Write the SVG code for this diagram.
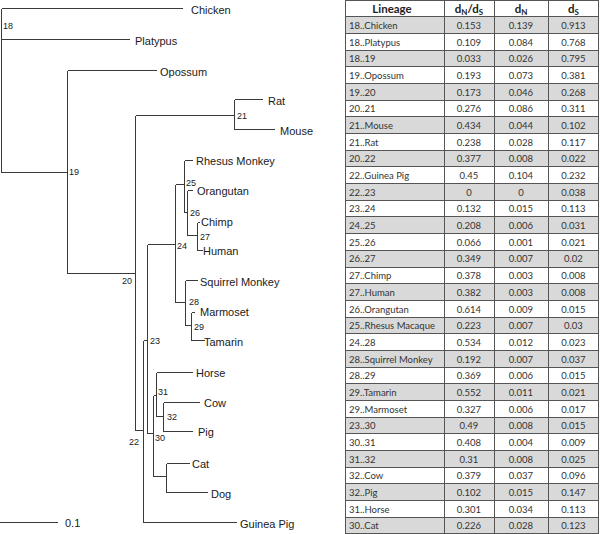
<svg xmlns="http://www.w3.org/2000/svg" width="600" height="534" viewBox="0 0 600 534">
<style>
.br{stroke:#3a3a3a;stroke-width:1;fill:none;shape-rendering:crispEdges}
.lf{font-family:"Liberation Sans",Arial,sans-serif;font-size:11px;fill:#1a1a1a}
.nd{font-family:"Liberation Sans",Arial,sans-serif;font-size:9px;fill:#1a1a1a}
.sh{fill:#d9d9d9}
.tl{stroke:#555;stroke-width:1;fill:none;shape-rendering:crispEdges}
.tx{font-family:Lato,"Open Sans",sans-serif;font-size:9.5px;fill:#333}
.tn{font-family:Lato,"Open Sans",sans-serif;font-size:9.5px;fill:#333;text-anchor:middle}
.hd{font-family:Lato,"Open Sans",sans-serif;font-size:11.5px;font-weight:bold;fill:#222;text-anchor:middle}
.sb{font-size:8px}
</style>
<rect width="600" height="534" fill="#fff"/>

<g id="connectors" class="br">
<path d="M1.5 8.5V172.5"/>
<path d="M1.5 8.5H183"/>
<path d="M1.5 39.5H130"/>
<path d="M1.5 172.5H67.5"/>
<path d="M67.5 70.5V273.5"/>
<path d="M67.5 70.5H157"/>
<path d="M67.5 273.5H135.5"/>
<path d="M135.5 115.5V430.5"/>
<path d="M135.5 115.5H234.5"/>
<path d="M234.5 99.5V129.5"/>
<path d="M234.5 99.5H263"/>
<path d="M234.5 129.5H275"/>
<path d="M135.5 430.5H143.5"/>
<path d="M143.5 340.5V522.5"/>
<path d="M143.5 522.5H237"/>
<path d="M143.5 340.5H147.5"/>
<path d="M147.5 244.5V433.5"/>
<path d="M147.5 244.5H175.5"/>
<path d="M175.5 184.5V302.5"/>
<path d="M175.5 184.5H184.5"/>
<path d="M184.5 160.5V212.5"/>
<path d="M184.5 160.5H193"/>
<path d="M184.5 212.5H187.5"/>
<path d="M187.5 190.5V235.5"/>
<path d="M187.5 190.5H193"/>
<path d="M187.5 235.5H197.5"/>
<path d="M197.5 222.5V250.5"/>
<path d="M197.5 222.5H200"/>
<path d="M197.5 250.5H203"/>
<path d="M175.5 302.5H185.5"/>
<path d="M185.5 280.5V325.5"/>
<path d="M185.5 280.5H198"/>
<path d="M185.5 325.5H191.5"/>
<path d="M191.5 312.5V340.5"/>
<path d="M191.5 312.5H195"/>
<path d="M191.5 340.5H205"/>
<path d="M147.5 433.5H153.5"/>
<path d="M153.5 395.5V476.5"/>
<path d="M153.5 395.5H156.5"/>
<path d="M156.5 372.5V416.5"/>
<path d="M156.5 372.5H193"/>
<path d="M156.5 416.5H163.5"/>
<path d="M163.5 402.5V431.5"/>
<path d="M163.5 402.5H200"/>
<path d="M163.5 431.5H193"/>
<path d="M153.5 476.5H166.5"/>
<path d="M166.5 463.5V492.5"/>
<path d="M166.5 463.5H190"/>
<path d="M166.5 492.5H208"/>
<path d="M0 522.5H58"/>
</g>

<g id="n18"><text class="nd" x="3" y="28.5">18</text></g>
<g id="n19"><text class="nd" x="69" y="175">19</text></g>
<g id="n20"><text class="nd" x="122" y="284">20</text></g>
<g id="n21"><text class="nd" x="237" y="118.5">21</text></g>
<g id="n22"><text class="nd" x="129" y="444.5">22</text></g>
<g id="n23"><text class="nd" x="150" y="343.5">23</text></g>
<g id="n24"><text class="nd" x="177" y="248.5">24</text></g>
<g id="n25"><text class="nd" x="186" y="185.5">25</text></g>
<g id="n26"><text class="nd" x="190" y="215.5">26</text></g>
<g id="n27"><text class="nd" x="200" y="239.5">27</text></g>
<g id="n28"><text class="nd" x="189" y="305">28</text></g>
<g id="n29"><text class="nd" x="194" y="329.5">29</text></g>
<g id="n30"><text class="nd" x="155" y="440.5">30</text></g>
<g id="n31"><text class="nd" x="158" y="395">31</text></g>
<g id="n32"><text class="nd" x="167" y="419.5">32</text></g>

<g id="chicken"><text class="lf" x="191" y="14">Chicken</text></g>
<g id="platypus"><text class="lf" x="135" y="45">Platypus</text></g>
<g id="opossum"><text class="lf" x="160" y="76">Opossum</text></g>
<g id="rat"><text class="lf" x="268" y="105">Rat</text></g>
<g id="mouse"><text class="lf" x="280" y="135">Mouse</text></g>
<g id="rhesus"><text class="lf" x="196" y="165">Rhesus Monkey</text></g>
<g id="orangutan"><text class="lf" x="197" y="195">Orangutan</text></g>
<g id="chimp"><text class="lf" x="201" y="226">Chimp</text></g>
<g id="human"><text class="lf" x="203" y="255">Human</text></g>
<g id="squirrel"><text class="lf" x="200" y="286">Squirrel Monkey</text></g>
<g id="marmoset"><text class="lf" x="200" y="316">Marmoset</text></g>
<g id="tamarin"><text class="lf" x="204" y="346">Tamarin</text></g>
<g id="horse"><text class="lf" x="196" y="377">Horse</text></g>
<g id="cow"><text class="lf" x="204" y="407">Cow</text></g>
<g id="pig"><text class="lf" x="198" y="436">Pig</text></g>
<g id="cat"><text class="lf" x="192" y="468">Cat</text></g>
<g id="dog"><text class="lf" x="211" y="498">Dog</text></g>
<g id="guineapig"><text class="lf" x="240" y="528">Guinea Pig</text></g>
<g id="scale"><text class="lf" x="65" y="527">0.1</text></g>

<g id="table">
<rect class="sh" x="345" y="16.69" width="254" height="16.69"/>
<rect class="sh" x="345" y="50.06" width="254" height="16.69"/>
<rect class="sh" x="345" y="83.44" width="254" height="16.69"/>
<rect class="sh" x="345" y="116.81" width="254" height="16.69"/>
<rect class="sh" x="345" y="150.19" width="254" height="16.69"/>
<rect class="sh" x="345" y="183.56" width="254" height="16.69"/>
<rect class="sh" x="345" y="216.94" width="254" height="16.69"/>
<rect class="sh" x="345" y="250.31" width="254" height="16.69"/>
<rect class="sh" x="345" y="283.69" width="254" height="16.69"/>
<rect class="sh" x="345" y="317.06" width="254" height="16.69"/>
<rect class="sh" x="345" y="350.44" width="254" height="16.69"/>
<rect class="sh" x="345" y="383.81" width="254" height="16.69"/>
<rect class="sh" x="345" y="417.19" width="254" height="16.69"/>
<rect class="sh" x="345" y="450.56" width="254" height="16.69"/>
<rect class="sh" x="345" y="483.94" width="254" height="16.69"/>
<rect class="sh" x="345" y="517.31" width="254" height="16.69"/>
<g class="tl">
<path d="M345.5 0V534M444.5 0V534M494.5 0V534M548.5 0V534M598.5 0V534"/>
<path d="M345 0.5H599M345 16.69H599M345 33.38H599M345 50.06H599M345 66.75H599M345 83.44H599M345 100.13H599M345 116.81H599M345 133.5H599M345 150.19H599M345 166.88H599M345 183.56H599M345 200.25H599M345 216.94H599M345 233.63H599M345 250.31H599M345 267H599M345 283.69H599M345 300.38H599M345 317.06H599M345 333.75H599M345 350.44H599M345 367.13H599M345 383.81H599M345 400.5H599M345 417.19H599M345 433.88H599M345 450.56H599M345 467.25H599M345 483.94H599M345 500.63H599M345 517.31H599M345 533.5H599"/>
</g>
<text class="hd" x="392" y="12.5">Lineage</text>
<text class="hd" x="469" y="12.5">d<tspan class="sb" dy="2">N</tspan><tspan dy="-2">/d</tspan><tspan class="sb" dy="2">S</tspan></text>
<text class="hd" x="521" y="12.5">d<tspan class="sb" dy="2">N</tspan></text>
<text class="hd" x="573.5" y="12.5">d<tspan class="sb" dy="2">S</tspan></text>

<g transform="translate(0,16.69)"><text class="tx" x="349" y="12.2">18..Chicken</text><text class="tn" x="469" y="12.2">0.153</text><text class="tn" x="521" y="12.2">0.139</text><text class="tn" x="573.5" y="12.2">0.913</text></g>
<g transform="translate(0,33.38)"><text class="tx" x="349" y="12.2">18..Platypus</text><text class="tn" x="469" y="12.2">0.109</text><text class="tn" x="521" y="12.2">0.084</text><text class="tn" x="573.5" y="12.2">0.768</text></g>
<g transform="translate(0,50.06)"><text class="tx" x="349" y="12.2">18..19</text><text class="tn" x="469" y="12.2">0.033</text><text class="tn" x="521" y="12.2">0.026</text><text class="tn" x="573.5" y="12.2">0.795</text></g>
<g transform="translate(0,66.75)"><text class="tx" x="349" y="12.2">19..Opossum</text><text class="tn" x="469" y="12.2">0.193</text><text class="tn" x="521" y="12.2">0.073</text><text class="tn" x="573.5" y="12.2">0.381</text></g>
<g transform="translate(0,83.44)"><text class="tx" x="349" y="12.2">19..20</text><text class="tn" x="469" y="12.2">0.173</text><text class="tn" x="521" y="12.2">0.046</text><text class="tn" x="573.5" y="12.2">0.268</text></g>
<g transform="translate(0,100.13)"><text class="tx" x="349" y="12.2">20..21</text><text class="tn" x="469" y="12.2">0.276</text><text class="tn" x="521" y="12.2">0.086</text><text class="tn" x="573.5" y="12.2">0.311</text></g>
<g transform="translate(0,116.81)"><text class="tx" x="349" y="12.2">21..Mouse</text><text class="tn" x="469" y="12.2">0.434</text><text class="tn" x="521" y="12.2">0.044</text><text class="tn" x="573.5" y="12.2">0.102</text></g>
<g transform="translate(0,133.5)"><text class="tx" x="349" y="12.2">21..Rat</text><text class="tn" x="469" y="12.2">0.238</text><text class="tn" x="521" y="12.2">0.028</text><text class="tn" x="573.5" y="12.2">0.117</text></g>
<g transform="translate(0,150.19)"><text class="tx" x="349" y="12.2">20..22</text><text class="tn" x="469" y="12.2">0.377</text><text class="tn" x="521" y="12.2">0.008</text><text class="tn" x="573.5" y="12.2">0.022</text></g>
<g transform="translate(0,166.88)"><text class="tx" x="349" y="12.2">22..Guinea Pig</text><text class="tn" x="469" y="12.2">0.45</text><text class="tn" x="521" y="12.2">0.104</text><text class="tn" x="573.5" y="12.2">0.232</text></g>
<g transform="translate(0,183.56)"><text class="tx" x="349" y="12.2">22..23</text><text class="tn" x="469" y="12.2">0</text><text class="tn" x="521" y="12.2">0</text><text class="tn" x="573.5" y="12.2">0.038</text></g>
<g transform="translate(0,200.25)"><text class="tx" x="349" y="12.2">23..24</text><text class="tn" x="469" y="12.2">0.132</text><text class="tn" x="521" y="12.2">0.015</text><text class="tn" x="573.5" y="12.2">0.113</text></g>
<g transform="translate(0,216.94)"><text class="tx" x="349" y="12.2">24..25</text><text class="tn" x="469" y="12.2">0.208</text><text class="tn" x="521" y="12.2">0.006</text><text class="tn" x="573.5" y="12.2">0.031</text></g>
<g transform="translate(0,233.63)"><text class="tx" x="349" y="12.2">25..26</text><text class="tn" x="469" y="12.2">0.066</text><text class="tn" x="521" y="12.2">0.001</text><text class="tn" x="573.5" y="12.2">0.021</text></g>
<g transform="translate(0,250.31)"><text class="tx" x="349" y="12.2">26..27</text><text class="tn" x="469" y="12.2">0.349</text><text class="tn" x="521" y="12.2">0.007</text><text class="tn" x="573.5" y="12.2">0.02</text></g>
<g transform="translate(0,267)"><text class="tx" x="349" y="12.2">27..Chimp</text><text class="tn" x="469" y="12.2">0.378</text><text class="tn" x="521" y="12.2">0.003</text><text class="tn" x="573.5" y="12.2">0.008</text></g>
<g transform="translate(0,283.69)"><text class="tx" x="349" y="12.2">27..Human</text><text class="tn" x="469" y="12.2">0.382</text><text class="tn" x="521" y="12.2">0.003</text><text class="tn" x="573.5" y="12.2">0.008</text></g>
<g transform="translate(0,300.38)"><text class="tx" x="349" y="12.2">26..Orangutan</text><text class="tn" x="469" y="12.2">0.614</text><text class="tn" x="521" y="12.2">0.009</text><text class="tn" x="573.5" y="12.2">0.015</text></g>
<g transform="translate(0,317.06)"><text class="tx" x="349" y="12.2">25..Rhesus Macaque</text><text class="tn" x="469" y="12.2">0.223</text><text class="tn" x="521" y="12.2">0.007</text><text class="tn" x="573.5" y="12.2">0.03</text></g>
<g transform="translate(0,333.75)"><text class="tx" x="349" y="12.2">24..28</text><text class="tn" x="469" y="12.2">0.534</text><text class="tn" x="521" y="12.2">0.012</text><text class="tn" x="573.5" y="12.2">0.023</text></g>
<g transform="translate(0,350.44)"><text class="tx" x="349" y="12.2">28..Squirrel Monkey</text><text class="tn" x="469" y="12.2">0.192</text><text class="tn" x="521" y="12.2">0.007</text><text class="tn" x="573.5" y="12.2">0.037</text></g>
<g transform="translate(0,367.13)"><text class="tx" x="349" y="12.2">28..29</text><text class="tn" x="469" y="12.2">0.369</text><text class="tn" x="521" y="12.2">0.006</text><text class="tn" x="573.5" y="12.2">0.015</text></g>
<g transform="translate(0,383.81)"><text class="tx" x="349" y="12.2">29..Tamarin</text><text class="tn" x="469" y="12.2">0.552</text><text class="tn" x="521" y="12.2">0.011</text><text class="tn" x="573.5" y="12.2">0.021</text></g>
<g transform="translate(0,400.5)"><text class="tx" x="349" y="12.2">29..Marmoset</text><text class="tn" x="469" y="12.2">0.327</text><text class="tn" x="521" y="12.2">0.006</text><text class="tn" x="573.5" y="12.2">0.017</text></g>
<g transform="translate(0,417.19)"><text class="tx" x="349" y="12.2">23..30</text><text class="tn" x="469" y="12.2">0.49</text><text class="tn" x="521" y="12.2">0.008</text><text class="tn" x="573.5" y="12.2">0.015</text></g>
<g transform="translate(0,433.88)"><text class="tx" x="349" y="12.2">30..31</text><text class="tn" x="469" y="12.2">0.408</text><text class="tn" x="521" y="12.2">0.004</text><text class="tn" x="573.5" y="12.2">0.009</text></g>
<g transform="translate(0,450.56)"><text class="tx" x="349" y="12.2">31..32</text><text class="tn" x="469" y="12.2">0.31</text><text class="tn" x="521" y="12.2">0.008</text><text class="tn" x="573.5" y="12.2">0.025</text></g>
<g transform="translate(0,467.25)"><text class="tx" x="349" y="12.2">32..Cow</text><text class="tn" x="469" y="12.2">0.379</text><text class="tn" x="521" y="12.2">0.037</text><text class="tn" x="573.5" y="12.2">0.096</text></g>
<g transform="translate(0,483.94)"><text class="tx" x="349" y="12.2">32..Pig</text><text class="tn" x="469" y="12.2">0.102</text><text class="tn" x="521" y="12.2">0.015</text><text class="tn" x="573.5" y="12.2">0.147</text></g>
<g transform="translate(0,500.63)"><text class="tx" x="349" y="12.2">31..Horse</text><text class="tn" x="469" y="12.2">0.301</text><text class="tn" x="521" y="12.2">0.034</text><text class="tn" x="573.5" y="12.2">0.113</text></g>
<g transform="translate(0,517.31)"><text class="tx" x="349" y="12.2">30..Cat</text><text class="tn" x="469" y="12.2">0.226</text><text class="tn" x="521" y="12.2">0.028</text><text class="tn" x="573.5" y="12.2">0.123</text></g>
</g>
</svg>
